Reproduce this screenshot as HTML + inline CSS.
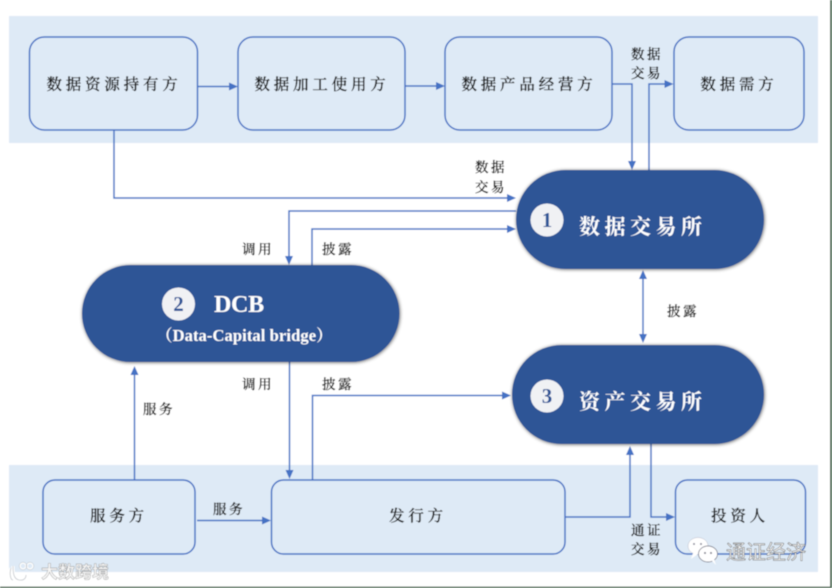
<!DOCTYPE html>
<html><head><meta charset="utf-8">
<style>
html,body{margin:0;padding:0;background:#fff;}
#s{display:block;width:832px;height:588px;}
text{font-family:"Liberation Serif","Noto Serif CJK SC",serif;}
.l{font-size:13.500px;fill:#111;font-weight:500;stroke:#111;stroke-width:.25;letter-spacing:2.500px;text-anchor:middle;}
.b{font-size:15.500px;fill:#111;font-weight:500;stroke:#111;stroke-width:.25;letter-spacing:3.800px;text-anchor:middle;}
.w{font-size:21px;fill:#fff;font-weight:700;letter-spacing:4.500px;}
.n{font-size:21px;fill:#2f5496;font-weight:700;text-anchor:middle;}
.bx{fill:#deeaf6;stroke:#4472c4;stroke-width:1.500;}
.c{fill:none;stroke:#4472c4;stroke-width:1.500;}
.a{fill:#4472c4;}
.p{fill:#2f5496;filter:url(#sh);}
</style></head><body>
<svg id="s" xmlns="http://www.w3.org/2000/svg" width="832" height="588" viewBox="0 0 832 588">
<defs>
<filter id="sh" x="-10%" y="-15%" width="120%" height="130%"><feGaussianBlur in="SourceAlpha" stdDeviation="1.800"/><feOffset dx="0.500" dy="0.500"/><feComponentTransfer><feFuncA type="linear" slope="0.6"/></feComponentTransfer><feMerge><feMergeNode/><feMergeNode in="SourceGraphic"/></feMerge></filter>
<filter id="soft" x="0" y="0" width="100%" height="100%"><feGaussianBlur stdDeviation="0.400"/></filter>
</defs>
<g filter="url(#soft)">
<rect width="832" height="588" fill="#fff"/>
<rect x="9" y="16" width="809" height="127" fill="#deeaf6"/>
<rect x="9" y="465" width="809" height="107" fill="#deeaf6"/>
<rect x="830" y="0" width="2" height="588" fill="#4f6b55"/>
<rect x="0" y="586.500" width="832" height="1.500" fill="#4f6b55"/>

<rect class="bx" x="29.500" y="37" width="168" height="93" rx="15"/>
<rect class="bx" x="238" y="37" width="167" height="93" rx="15"/>
<rect class="bx" x="445" y="37" width="167" height="93" rx="15"/>
<rect class="bx" x="674" y="37" width="130" height="93" rx="15"/>
<rect class="bx" x="43" y="480" width="152" height="74" rx="12"/>
<rect class="bx" x="271.500" y="480" width="293.500" height="74" rx="12"/>
<rect class="bx" x="675.500" y="480" width="130" height="74" rx="12"/>

<g class="c">
<path d="M198 86.500H232"/>
<path d="M405 86H439"/>
<path d="M612 84H632V164"/>
<path d="M649 170V84H668"/>
<path d="M114 130V198H510"/>
<path d="M516 211H289V259"/>
<path d="M312 265V229H510"/>
<path d="M643 275V338"/>
<path d="M134.500 480V370"/>
<path d="M289.500 362V473"/>
<path d="M312.500 480V395.500H506"/>
<path d="M197 520.500H265"/>
<path d="M565 517H630V451"/>
<path d="M651 444V517H670"/>
</g>
<g class="a">
<path d="M238 86.500L229 82.500V90.500Z"/>
<path d="M445 86L436 82V90Z"/>
<path d="M632 170L628 161H636Z"/>
<path d="M673.500 84L664.500 80V88Z"/>
<path d="M516 198L507 194V202Z"/>
<path d="M289 265L285 256H293Z"/>
<path d="M516 229L507 225V233Z"/>
<path d="M643 270L639 279H647Z"/>
<path d="M643 343L639 334H647Z"/>
<path d="M134.500 366L130.500 375H138.500Z"/>
<path d="M289.500 479L285.500 470H293.500Z"/>
<path d="M511 395.500L502 391.500V399.500Z"/>
<path d="M271 520.500L262 516.500V524.500Z"/>
<path d="M630 446L626 455H634Z"/>
<path d="M675 517L666 513V521Z"/>
</g>

<rect class="p" x="516" y="170" width="248" height="99" rx="49.500"/>
<rect class="p" x="82" y="265" width="317.500" height="97" rx="48.500"/>
<rect class="p" x="512" y="345" width="252" height="99" rx="49.500"/>

<circle cx="547" cy="220" r="16.500" fill="#f0f1f4"/>
<circle cx="178.500" cy="304" r="16.500" fill="#f0f1f4"/>
<circle cx="547" cy="396" r="16.500" fill="#f0f1f4"/>
<text class="n" x="547" y="227">1</text>
<text class="n" x="178.500" y="311">2</text>
<text class="n" x="547" y="403">3</text>

<text class="w" x="579" y="234">数据交易所</text>
<text class="w" x="579" y="409">资产交易所</text>
<text x="214" y="312" font-size="24" font-weight="700" fill="#fff" letter-spacing="-0.300">DCB</text>
<text x="156" y="341" font-size="16.500" font-weight="700" fill="#fff" letter-spacing="0.100">（Data-Capital bridge）</text>

<text class="b" x="114" y="89.500">数据资源持有方</text>
<text class="b" x="322" y="89.500">数据加工使用方</text>
<text class="b" x="529" y="89.500">数据产品经营方</text>
<text class="b" x="739" y="89.500">数据需方</text>
<text class="b" x="119" y="521">服务方</text>
<text class="b" x="418" y="521">发行方</text>
<text class="b" x="740" y="521">投资人</text>

<text class="l" x="647" y="59">数据</text>
<text class="l" x="647" y="78">交易</text>
<text class="l" x="491" y="172">数据</text>
<text class="l" x="491" y="192">交易</text>
<text class="l" x="258" y="254">调用</text>
<text class="l" x="338" y="254">披露</text>
<text class="l" x="683" y="316">披露</text>
<text class="l" x="258" y="389">调用</text>
<text class="l" x="338" y="389">披露</text>
<text class="l" x="159" y="414">服务</text>
<text class="l" x="229" y="514">服务</text>
<text class="l" x="647" y="535">通证</text>
<text class="l" x="647" y="554">交易</text>

<g>
<path d="M11 568C9 575 11 580 13 580M13 566C13 574 14 579 19 580C24 581 26 578 26 575" fill="none" stroke="#fff" stroke-width="3"/>
<path d="M11 568C9 575 11 580 13 580M13 566C13 574 14 579 19 580C24 581 26 578 26 575" fill="none" stroke="#b0b5bc" stroke-width="0.600"/>
<circle cx="23" cy="566" r="3" fill="none" stroke="#fff" stroke-width="1.500"/>
<circle cx="30" cy="566" r="3" fill="none" stroke="#fff" stroke-width="1.500"/>
<circle cx="23" cy="566" r="3.800" fill="none" stroke="#aab0b8" stroke-width="0.400"/>
<circle cx="30" cy="566" r="3.800" fill="none" stroke="#aab0b8" stroke-width="0.400"/>
<text x="41" y="578" font-size="17" fill="#f6f6f6" stroke="#8f8f8f" stroke-width="0.400" font-weight="700" style="font-family:'Liberation Sans','Noto Sans CJK SC',sans-serif">大数跨境</text>
</g>
<g>
<ellipse cx="698" cy="546" rx="10" ry="8.500" fill="#fff" stroke="#aab" stroke-width="0.400"/>
<path d="M693 553L691 559L698 554Z" fill="#fff"/>
<ellipse cx="708" cy="554" rx="9.500" ry="8" fill="#fff" stroke="#667" stroke-width="0.700"/>
<path d="M712 561L716 565L714 559Z" fill="#fff"/>
<circle cx="694" cy="544" r="1" fill="#889"/><circle cx="701" cy="544" r="1" fill="#889"/>
<circle cx="705" cy="553" r="1" fill="#778"/><circle cx="711" cy="553" r="1" fill="#778"/>
<text x="726" y="559" font-size="20" fill="#fff" stroke="#555" stroke-width="0.500" style="font-family:'Liberation Sans','Noto Sans CJK SC',sans-serif">通证经济</text>
</g>
</g>
</svg>
</body></html>
